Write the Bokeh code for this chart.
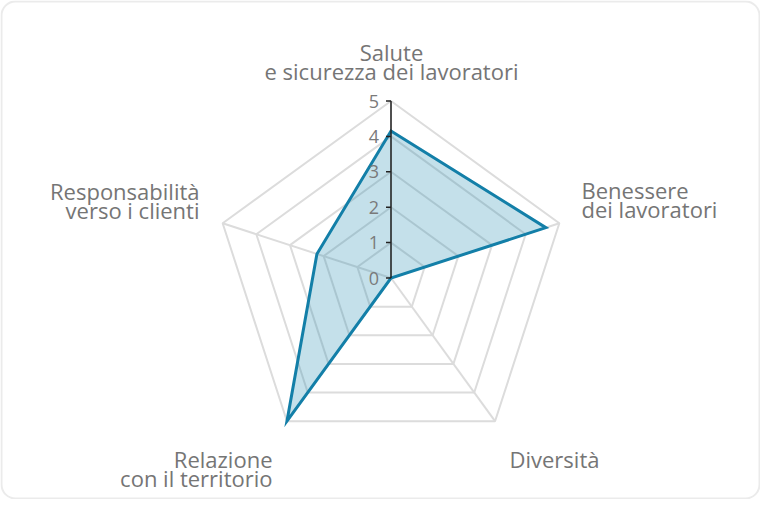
import math
from bokeh.plotting import figure
from bokeh.models import Range1d
from bokeh.core.properties import value
from bokeh.embed import file_html
from bokeh.resources import INLINE

# ---- data ----
categories = [
    "Salute\ne sicurezza dei lavoratori",
    "Benessere\ndei lavoratori",
    "Diversità",
    "Relazione\ncon il territorio",
    "Responsabilità\nverso i clienti",
]
scores = [4.15, 4.6, 0.0, 5.0, 2.2]
tick_values = [0, 1, 2, 3, 4, 5]
tick_labels = ["0", "1", "2", "3", "4", "5"]
r_max = 5

# ---- layout (pixel geometry) ----
W, H = 760, 499
CX, CY = 398.5, 285.5   # centre in page pixels
S = 35.4                # pixels per unit
OX, OY = 8, 8           # page margin


def to_data(px, py):
    return (px - CX) / S, (CY - py) / S


x0, y1 = to_data(OX, OY)
x1, y0 = to_data(OX + W, OY + H)

p = figure(width=W, height=H, output_backend="svg", toolbar_location=None,
           x_range=Range1d(x0, x1), y_range=Range1d(y0, y1),
           min_border=0, border_fill_color="white", background_fill_color="white")
p.axis.visible = False
p.grid.visible = False
p.outline_line_color = None

# rounded card border
bl, bt = to_data(9, 9)
br, bb = to_data(767, 506)
p.quad(left=[bl], right=[br], top=[bt], bottom=[bb], fill_color=None,
       line_color="#ebebeb", line_width=2, border_radius=14)

n = len(categories)
angles = [math.radians(90 - 360 / n * i) for i in range(n)]

GRID = "#dcdcdc"
# grid polygons
for r in tick_values[1:]:
    xs = [r * math.cos(a) for a in angles]
    ys = [r * math.sin(a) for a in angles]
    p.patch(xs, ys, fill_color=None, line_color=GRID, line_width=2)

# spokes
p.segment(x0=[0] * n, y0=[0] * n,
          x1=[r_max * math.cos(a) for a in angles],
          y1=[r_max * math.sin(a) for a in angles],
          line_color=GRID, line_width=2)

# data polygon
dx = [v * math.cos(a) for v, a in zip(scores, angles)]
dy = [v * math.sin(a) for v, a in zip(scores, angles)]
p.patch(dx, dy, fill_color="#2a8fb5", fill_alpha=0.28,
        line_color="#137fa8", line_width=3, line_join="miter")

# radial axis
p.segment(x0=[0], y0=[0], x1=[0], y1=[r_max], line_color="#222222", line_width=1.5)
tl = 5 / S
p.segment(x0=[-tl] * len(tick_values), y0=tick_values, x1=[0] * len(tick_values),
          y1=tick_values, line_color="#222222", line_width=1.5)
p.text(x=[-12 / S] * len(tick_values), y=tick_values, text=tick_labels,
       text_align="right", text_baseline="middle", text_color="#7a7a7a",
       text_font=value("Open Sans"), text_font_size="18px")

# category labels: (pixel anchor of first baseline, alignment)
label_pos = [(399, 59, "center"), (589, 197, "left"), (517, 466, "left"),
             (280, 466, "right"), (207, 198, "right")]
LINE = 19
for cat, (px, py, al) in zip(categories, label_pos):
    for k, line in enumerate(cat.split("\n")):
        lx, ly = to_data(px, py + k * LINE)
        p.text(x=[lx], y=[ly], text=[line], text_align=al,
               text_baseline="alphabetic", text_color="#757575",
               text_font=value("Open Sans"), text_font_size="22px")

open("out.html", "w").write(file_html(p, INLINE))
